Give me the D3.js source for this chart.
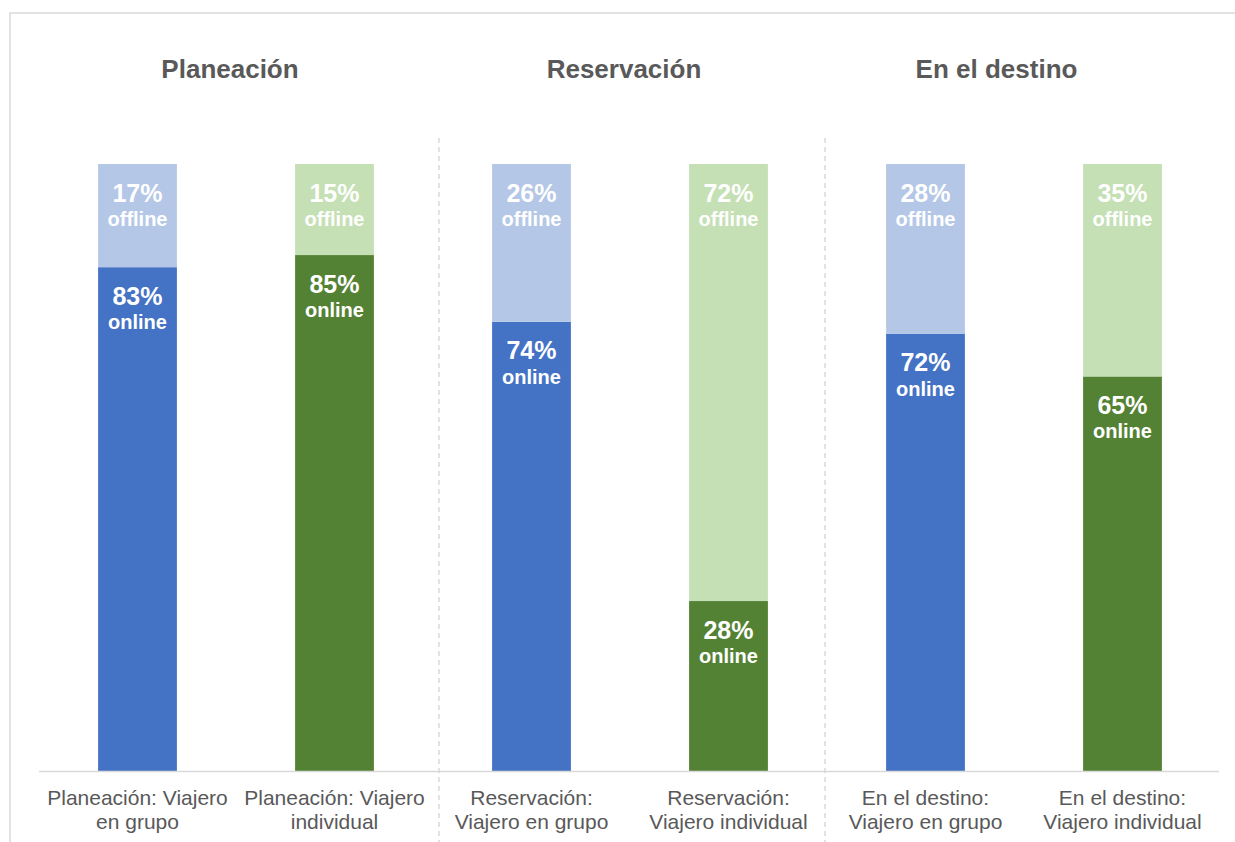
<!DOCTYPE html>
<html>
<head>
<meta charset="utf-8">
<script src="https://cdn.jsdelivr.net/npm/d3@7"></script>
<style>
  html, body { margin: 0; padding: 0; background: #fff; }
  svg { display: block; font-family: "Liberation Sans", Arial, sans-serif; }
</style>
</head>
<body>
<svg id="chart" width="1235" height="842"></svg>
<script>
// Travel stages and traveller types
const categories = [
  ["Planeación: Viajero", "en grupo"],
  ["Planeación: Viajero", "individual"],
  ["Reservación:", "Viajero en grupo"],
  ["Reservación:", "Viajero individual"],
  ["En el destino:", "Viajero en grupo"],
  ["En el destino:", "Viajero individual"]
];
const travellerType = ["grupo", "individual", "grupo", "individual", "grupo", "individual"];
const onlineValues = [83, 85, 74, 28, 72, 65];
const offlineValues = [17, 15, 26, 72, 28, 35];
const stageTitles = ["Planeación", "Reservación", "En el destino"];

const colors = {
  grupo: { online: "#4472c4", offline: "#b4c7e7" },
  individual: { online: "#548235", offline: "#c5e0b4" }
};
const textGray = "#595959";
const lineGray = "#d9d9d9";

const svg = d3.select("#chart");

// Frame
svg.append("path")
  .attr("d", "M10,842 V13 H1235")
  .attr("fill", "none")
  .attr("stroke", lineGray)
  .attr("stroke-width", 1.5);

const plot = { left: 39, right: 1221, top: 164, bottom: 771 };

const x = d3.scaleBand()
  .domain(d3.range(categories.length))
  .range([plot.left, plot.right])
  .paddingInner(0.6)
  .paddingOuter(0.3);

const y = d3.scaleLinear()
  .domain([0, 100])
  .range([plot.bottom, plot.top]);

const rows = categories.map((c, i) => ({
  i,
  type: travellerType[i],
  online: onlineValues[i],
  offline: offlineValues[i]
}));

// Stacked segments: online at the base, offline on top
const segs = [];
rows.forEach(r => {
  segs.push({ i: r.i, type: r.type, key: "online", y0: 0, y1: r.online, v: r.online });
  segs.push({ i: r.i, type: r.type, key: "offline", y0: r.online, y1: r.online + r.offline, v: r.offline });
});

svg.append("g").selectAll("rect")
  .data(segs)
  .join("rect")
  .attr("x", d => x(d.i))
  .attr("width", x.bandwidth())
  .attr("y", d => y(d.y1))
  .attr("height", d => y(d.y0) - y(d.y1))
  .attr("fill", d => colors[d.type][d.key]);

// Segment labels placed near each segment's top edge
const lbl = svg.append("g").attr("fill", "#fff").attr("font-weight", "bold").attr("text-anchor", "middle");
segs.forEach(d => {
  const cx = x(d.i) + x.bandwidth() / 2;
  const top = y(d.y1);
  lbl.append("text").attr("x", cx).attr("y", top + 37.5)
    .attr("font-size", 25).text(d.v + "%");
  lbl.append("text").attr("x", cx).attr("y", top + 62)
    .attr("font-size", 20).text(d.key);
});

// Category axis
svg.append("line")
  .attr("x1", plot.left).attr("x2", plot.right - 2)
  .attr("y1", plot.bottom + 0.5).attr("y2", plot.bottom + 0.5)
  .attr("stroke", lineGray).attr("stroke-width", 1.5);

const axisLabels = svg.append("g").attr("fill", textGray).attr("font-size", 21).attr("text-anchor", "middle");
categories.forEach((lines, i) => {
  const t = axisLabels.append("text").attr("x", x(i) + x.bandwidth() / 2).attr("y", 805);
  lines.forEach((s, k) => t.append("tspan").attr("x", x(i) + x.bandwidth() / 2).attr("dy", k ? 24 : 0).text(s));
});

// Dashed separators between stages
const separatorX = [439, 825];
separatorX.forEach(sx => {
  svg.append("line")
    .attr("x1", sx).attr("x2", sx)
    .attr("y1", 138).attr("y2", 842)
    .attr("stroke", lineGray).attr("stroke-width", 1.5)
    .attr("stroke-dasharray", "5,4");
});

// Stage titles
const titleX = [230, 624, 996.5];
svg.append("g").selectAll("text")
  .data(stageTitles)
  .join("text")
  .attr("x", (d, k) => titleX[k])
  .attr("y", 78)
  .attr("text-anchor", "middle")
  .attr("font-size", 26)
  .attr("font-weight", "bold")
  .attr("fill", textGray)
  .text(d => d);
</script>
</body>
</html>
